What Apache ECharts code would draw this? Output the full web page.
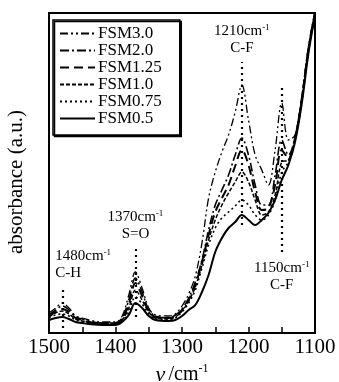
<!DOCTYPE html>
<html>
<head>
<meta charset="utf-8">
<script src="https://cdn.jsdelivr.net/npm/echarts@6/dist/echarts.min.js"></script>
<style>
  html, body { margin: 0; padding: 0; background: #fff; }
  #main { width: 339px; height: 382px; }
</style>
</head>
<body>
<div id="main"></div>
<script>
// wavenumber (cm-1) sample points
var wavenumbers = [1500, 1490, 1480, 1470, 1460, 1450, 1440, 1420, 1400, 1390, 1380, 1370, 1360, 1350, 1340, 1320, 1310, 1300, 1290,
    1280, 1270, 1260, 1250, 1240, 1230, 1220, 1210, 1200, 1190, 1180, 1170, 1160, 1150, 1140, 1130, 1120, 1110, 1100];

// absorbance (a.u.), one array per sample
var fsm30 = [20, 25, 30, 25, 17, 15, 13, 11, 11, 17, 38, 61, 45, 25, 18, 17, 19, 27, 39,
    57, 90, 135, 161, 181, 198, 221, 248, 213, 178, 163, 148, 183, 230, 193, 198, 236, 286, 322];
var fsm20 = [18, 23, 27, 23, 16, 14, 12, 10, 10, 15, 33, 55, 41, 23, 17, 15, 18, 24, 35,
    51, 73, 103, 128, 143, 158, 178, 195, 178, 148, 128, 128, 158, 193, 178, 196, 235, 285, 321];
var fsm125 = [17, 21, 24, 21, 15, 13, 11, 10, 10, 14, 29, 50, 37, 22, 16, 15, 17, 23, 33,
    48, 71, 98, 121, 135, 148, 167, 183, 168, 141, 123, 125, 148, 183, 175, 195, 233, 283, 320];
var fsm10 = [16, 20, 22, 19, 14, 12, 11, 9, 9, 13, 25, 43, 33, 21, 15, 14, 16, 22, 32,
    46, 68, 93, 113, 128, 140, 151, 161, 151, 133, 118, 121, 138, 171, 173, 194, 232, 282, 320];
var fsm075 = [15, 18, 19, 17, 13, 11, 10, 9, 9, 12, 21, 36, 29, 19, 14, 13, 15, 21, 30,
    43, 65, 88, 105, 115, 121, 127, 133, 128, 118, 113, 118, 133, 161, 171, 193, 231, 281, 319];
var fsm05 = [13, 15, 16, 14, 11, 10, 9, 8, 8, 11, 18, 30, 25, 17, 13, 12, 13, 17, 23,
    28, 41, 58, 81, 95, 105, 111, 118, 113, 108, 113, 120, 133, 153, 168, 191, 229, 279, 318];

var seriesNames = ['FSM3.0', 'FSM2.0', 'FSM1.25', 'FSM1.0', 'FSM0.75', 'FSM0.5'];

// peak assignments: position, dotted guide from/to (a.u.), label lines
var peakPos = [1480, 1370, 1210, 1150];
var peakFrom = [5, 16, 108, 245];
var peakTo = [46, 85, 271, 78];
var peakWave = ['1480cm', '1370cm', '1210cm', '1150cm'];
var peakBond = ['C-H', 'S=O', 'C-F', 'C-F'];

var xTicks = [1500, 1400, 1300, 1200, 1100];

var serif = "'Liberation Serif', 'Times New Roman', serif";

function pairs(values) {
    var out = [];
    for (var i = 0; i < wavenumbers.length; i++) {
        out.push([wavenumbers[i], values[i]]);
    }
    return out;
}

function curve(name, values, dash, width) {
    return {
        name: name,
        type: 'line',
        data: pairs(values),
        smooth: 0.35,
        symbol: 'none',
        showSymbol: false,
        lineStyle: {color: '#000', width: width, type: dash},
        itemStyle: {color: '#000'},
        z: 3
    };
}

var guideLines = [];
for (var k = 0; k < peakPos.length; k++) {
    guideLines.push([
        {coord: [peakPos[k], peakFrom[k]]},
        {
            coord: [peakPos[k], peakTo[k]],
            label: {
                align: k === 0 ? 'left' : 'center',
                offset: k === 0 ? [-7, 0] : [0, 0],
                formatter: '{a|' + peakWave[k] + '}{s|-1}\n{a|' + peakBond[k] + '}'
            }
        }
    ]);
}

var markSeries = curve(seriesNames[5], fsm05, 'solid', 2);
markSeries.markLine = {
    silent: true,
    symbol: 'none',
    animation: false,
    lineStyle: {color: '#000', width: 2.2, type: [2, 4]},
    label: {
        show: true,
        position: 'end',
        distance: 5,
        color: '#000',
        rich: {
            a: {fontFamily: serif, fontSize: 15, color: '#000', lineHeight: 17},
            s: {fontFamily: serif, fontSize: 9, color: '#000', lineHeight: 17, verticalAlign: 'top'}
        }
    },
    data: guideLines
};

var chart = echarts.init(document.getElementById('main'), null, {renderer: 'canvas'});

var option = {
    animation: false,
    backgroundColor: '#fff',
    grid: {
        left: 49,
        right: 24,
        top: 13,
        bottom: 49,
        outerBoundsMode: 'none',
        show: true,
        borderColor: '#000',
        borderWidth: 2
    },
    legend: {
        data: seriesNames,
        orient: 'vertical',
        left: 53,
        top: 20,
        itemWidth: 35,
        itemHeight: 14,
        itemGap: 0,
        padding: [5, 18, 8, 6],
        backgroundColor: '#fff',
        borderColor: '#000',
        borderWidth: 1.5,
        shadowColor: '#000',
        shadowOffsetX: 1.5,
        shadowOffsetY: 1.5,
        shadowBlur: 0,
        itemStyle: {opacity: 0},
        textStyle: {fontFamily: serif, fontSize: 17, color: '#000', padding: [0, 0, 0, -2]}
    },
    xAxis: {
        type: 'value',
        inverse: true,
        min: 1100,
        max: 1500,
        interval: 100,
        name: '{n|ν} {u|/cm}{s|-1}',
        nameLocation: 'middle',
        nameGap: 30,
        nameTextStyle: {
            rich: {
                n: {fontFamily: serif, fontSize: 22, fontStyle: 'italic', color: '#000', lineHeight: 24},
                u: {fontFamily: serif, fontSize: 20, color: '#000', lineHeight: 24},
                s: {fontFamily: serif, fontSize: 12, color: '#000', lineHeight: 24, verticalAlign: 'top'}
            }
        },
        axisLine: {show: true, lineStyle: {color: '#000', width: 2}},
        axisTick: {show: true, inside: true, length: 6, lineStyle: {color: '#000', width: 1.5}},
        minorTick: {show: true, splitNumber: 2, length: 6, lineStyle: {color: '#000', width: 1.5}},
        splitLine: {show: false},
        axisLabel: {
            fontFamily: serif,
            fontSize: 21,
            color: '#000',
            margin: 4,
            formatter: function (v) {
                return xTicks.indexOf(v) >= 0 ? String(v) : '';
            }
        }
    },
    yAxis: {
        type: 'value',
        min: 0,
        max: 320,
        name: 'absorbance (a.u.)',
        nameLocation: 'middle',
        nameGap: 22,
        nameTextStyle: {fontFamily: serif, fontSize: 21, color: '#000', padding: [0, 18, 0, 0]},
        axisLine: {show: true, lineStyle: {color: '#000', width: 2}},
        axisTick: {show: false},
        axisLabel: {show: false},
        splitLine: {show: false}
    },
    series: [
        curve(seriesNames[0], fsm30, [8, 3, 2, 3, 2, 3], 1.3),
        curve(seriesNames[1], fsm20, [9, 3, 2, 3], 1.6),
        curve(seriesNames[2], fsm125, [9, 5], 2),
        curve(seriesNames[3], fsm10, [4, 2], 1.5),
        curve(seriesNames[4], fsm075, [2, 3], 1.6),
        markSeries
    ]
};

chart.setOption(option);
</script>
</body>
</html>
